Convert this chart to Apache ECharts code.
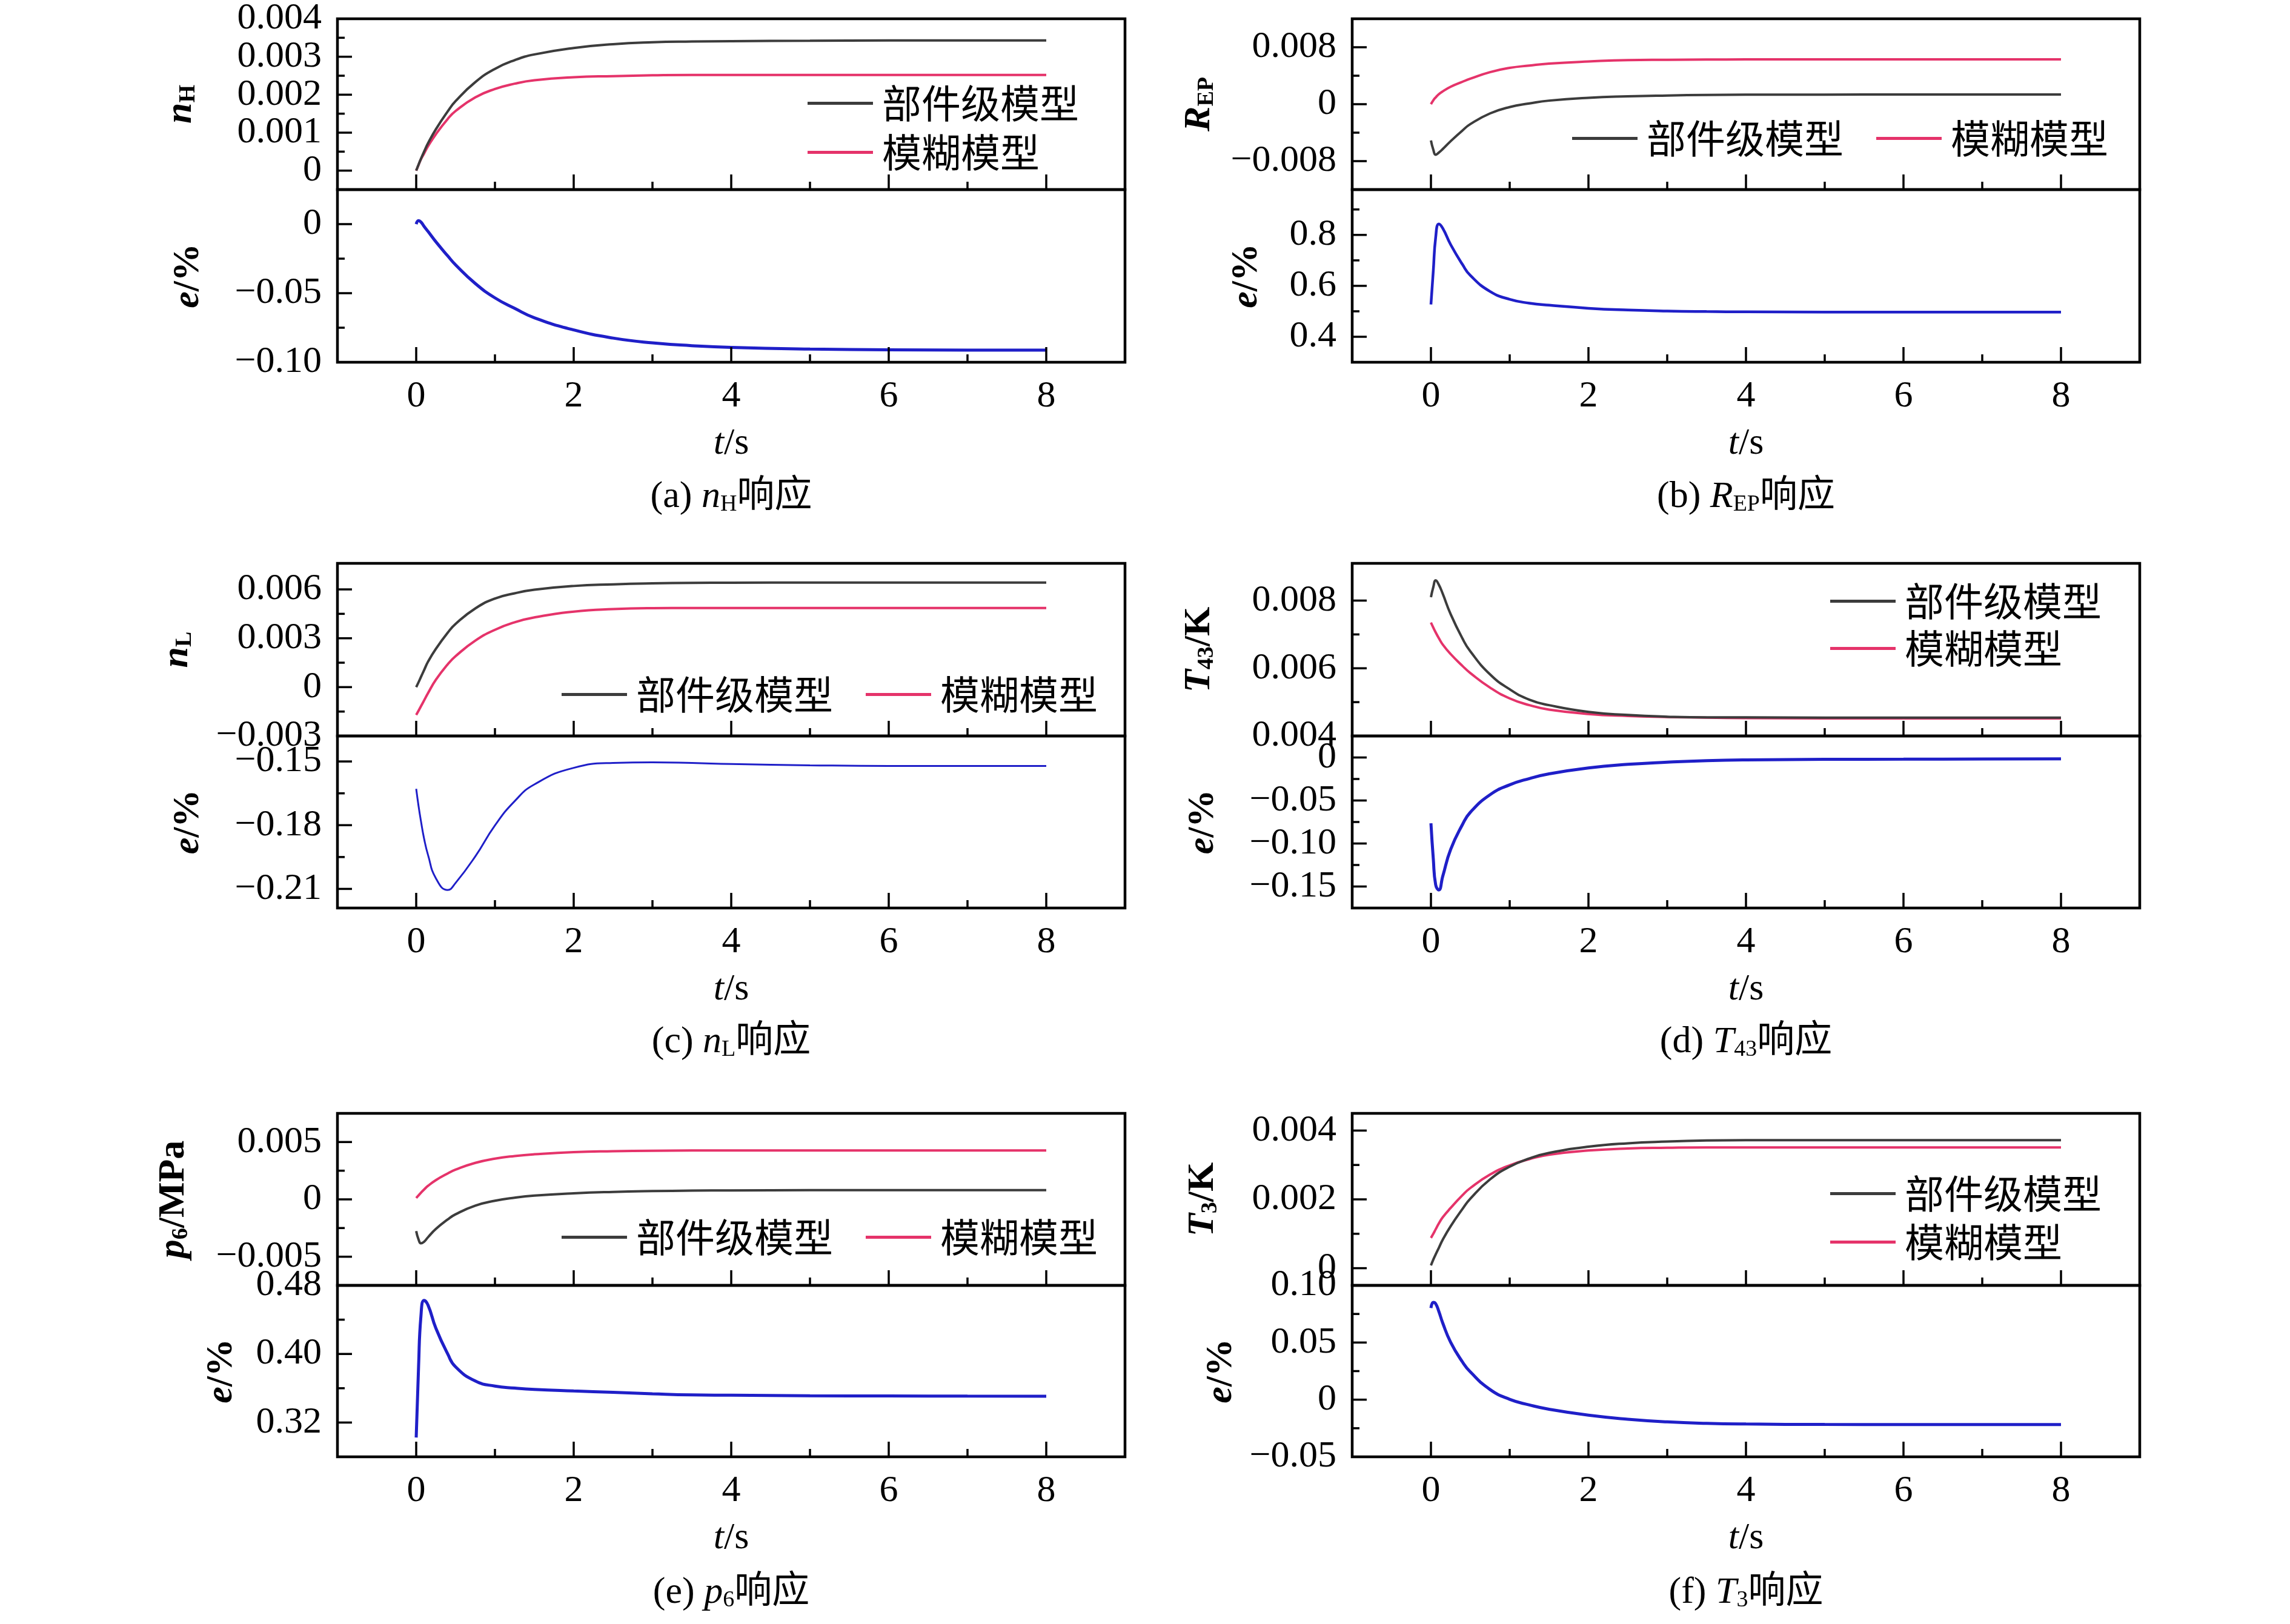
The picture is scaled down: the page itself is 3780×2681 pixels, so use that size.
<!DOCTYPE html>
<html>
<head>
<meta charset="utf-8">
<script src="https://cdn.jsdelivr.net/npm/echarts@6/dist/echarts.min.js"></script>
<style>
html, body { margin: 0; padding: 0; background: #fff; }
#main { width: 3780px; height: 2681px; }
</style>
</head>
<body>
<div id="main"></div>
<script>
// sample times (s) shared by every curve
var timeS = [0, 0.03, 0.06, 0.1, 0.15, 0.25, 0.4, 0.5, 0.75, 1, 1.25, 1.5, 2, 2.5, 3, 3.5, 4, 5, 6, 7, 8];
var seriesNames = ['部件级模型', '模糊模型'];

// (a) nH
var nHComp  = [0, 0.00016, 0.00031, 0.0005, 0.00072, 0.00109, 0.00156, 0.00183, 0.00233, 0.00268, 0.00291, 0.00306, 0.00323, 0.00333, 0.00338, 0.0034, 0.00341, 0.00342, 0.00343, 0.00343, 0.00343];
var nHFuzzy = [0, 0.00015, 0.0003, 0.00045, 0.00064, 0.00096, 0.00136, 0.00157, 0.00193, 0.00215, 0.00229, 0.00238, 0.00246, 0.00249, 0.00251, 0.00252, 0.00252, 0.00252, 0.00252, 0.00252, 0.00252];
var nHErr   = [0, 0.0025, 0.0015, -0.0016, -0.0053, -0.0128, -0.023, -0.0295, -0.043, -0.0534, -0.061, -0.0678, -0.0766, -0.0825, -0.086, -0.088, -0.0893, -0.0905, -0.091, -0.0912, -0.0912];
// (b) REP
var rEPComp  = [-0.0051, -0.0064, -0.0071, -0.0068, -0.0063, -0.0052, -0.0037, -0.0028, -0.0013, -0.0004, 0.0001, 0.0005, 0.0009, 0.0011, 0.00122, 0.0013, 0.00133, 0.00135, 0.00136, 0.00136, 0.00136];
var rEPFuzzy = [0, 0.00055, 0.00095, 0.0014, 0.0018, 0.00245, 0.00315, 0.00358, 0.0045, 0.0051, 0.00543, 0.0057, 0.006, 0.0062, 0.00624, 0.00627, 0.00629, 0.0063, 0.0063, 0.0063, 0.0063];
var rEPErr   = [0.527, 0.66, 0.79, 0.843, 0.826, 0.762, 0.684, 0.641, 0.578, 0.547, 0.532, 0.524, 0.512, 0.505, 0.501, 0.499, 0.498, 0.497, 0.497, 0.497, 0.497];
// (c) nL
var nLComp  = [0, 0.0003, 0.00062, 0.00104, 0.00156, 0.00235, 0.00334, 0.00388, 0.00483, 0.00544, 0.00576, 0.00598, 0.00621, 0.00631, 0.00637, 0.0064, 0.00641, 0.00642, 0.00642, 0.00642, 0.00642];
var nLFuzzy = [-0.00171, -0.00145, -0.00118, -0.00082, -0.00037, 0.00045, 0.0014, 0.0019, 0.00285, 0.00352, 0.00398, 0.00428, 0.00463, 0.00479, 0.00485, 0.00486, 0.00486, 0.00486, 0.00486, 0.00486, 0.00486];
var nLErr   = [-0.1629, -0.171, -0.178, -0.1863, -0.194, -0.205, -0.2105, -0.2072, -0.1947, -0.1801, -0.1687, -0.1608, -0.153, -0.1507, -0.1504, -0.1507, -0.1512, -0.1518, -0.1521, -0.1521, -0.1521];
// (d) T43
var t43Comp  = [0.0081, 0.0084, 0.0086, 0.00847, 0.0082, 0.0076, 0.00688, 0.0065, 0.00582, 0.00538, 0.00507, 0.00491, 0.00471, 0.00462, 0.00457, 0.00455, 0.00455, 0.00454, 0.00454, 0.00454, 0.00454];
var t43Fuzzy = [0.00735, 0.0072, 0.00706, 0.00689, 0.0067, 0.00642, 0.00607, 0.00586, 0.00543, 0.00511, 0.00491, 0.00478, 0.00465, 0.00459, 0.00456, 0.00454, 0.00453, 0.00452, 0.00452, 0.00452, 0.00452];
var t43Err   = [-0.0765, -0.118, -0.148, -0.154, -0.138, -0.107, -0.078, -0.0637, -0.0433, -0.0318, -0.0245, -0.019, -0.0121, -0.008, -0.0055, -0.0037, -0.0028, -0.0022, -0.002, -0.0018, -0.0016];
// (e) p6
var p6Comp  = [-0.00277, -0.0035, -0.00383, -0.0037, -0.0033, -0.00258, -0.00175, -0.0013, -0.00055, -0.00012, 0.00015, 0.00033, 0.00053, 0.00065, 0.00072, 0.00076, 0.00078, 0.0008, 0.0008, 0.0008, 0.0008];
var p6Fuzzy = [0.00012, 0.00035, 0.00058, 0.00086, 0.00118, 0.00168, 0.00226, 0.00259, 0.00318, 0.00355, 0.00378, 0.00393, 0.00412, 0.0042, 0.00424, 0.00426, 0.00427, 0.00427, 0.00427, 0.00427, 0.00427];
var p6Err   = [0.3025, 0.385, 0.444, 0.4625, 0.457, 0.43, 0.4, 0.385, 0.3685, 0.3625, 0.3602, 0.3586, 0.3568, 0.3553, 0.3535, 0.3522, 0.3519, 0.3512, 0.351, 0.3508, 0.3507];
// (f) T3
var t3Comp  = [0.00008, 0.00025, 0.0004, 0.00059, 0.00083, 0.00122, 0.00172, 0.00202, 0.00258, 0.00295, 0.00319, 0.00335, 0.00353, 0.00363, 0.00368, 0.00371, 0.00372, 0.00372, 0.00372, 0.00372, 0.00372];
var t3Fuzzy = [0.00088, 0.001, 0.00113, 0.0013, 0.00148, 0.00175, 0.00212, 0.00233, 0.00272, 0.00299, 0.00317, 0.0033, 0.00342, 0.00348, 0.0035, 0.00351, 0.00351, 0.00351, 0.00351, 0.00351, 0.00351];
var t3Err   = [0.0802, 0.0852, 0.084, 0.0773, 0.067, 0.0503, 0.033, 0.0243, 0.0089, 0.0003, -0.0046, -0.0084, -0.0136, -0.0171, -0.0194, -0.0207, -0.0213, -0.0217, -0.0218, -0.0218, -0.0218];

// ticks
var xTicks = [0, 2, 4, 6, 8];
var xLabels = ['0', '2', '4', '6', '8'];
var xMinor = [1, 3, 5, 7];

var nHTicks = [0, 0.001, 0.002, 0.003, 0.004];
var nHLabels = ['0', '0.001', '0.002', '0.003', '0.004'];
var nHMinor = [0.0005, 0.0015, 0.0025, 0.0035];
var nHErrTicks = [-0.10, -0.05, 0];
var nHErrLabels = ['−0.10', '−0.05', '0'];
var nHErrMinor = [-0.075, -0.025];

var rEPTicks = [-0.008, 0, 0.008];
var rEPLabels = ['−0.008', '0', '0.008'];
var rEPMinor = [-0.004, 0.004];
var rEPErrTicks = [0.4, 0.6, 0.8];
var rEPErrLabels = ['0.4', '0.6', '0.8'];
var rEPErrMinor = [0.5, 0.7, 0.9];

var nLTicks = [-0.003, 0, 0.003, 0.006];
var nLLabels = ['−0.003', '0', '0.003', '0.006'];
var nLMinor = [-0.0015, 0.0015, 0.0045];
var nLErrTicks = [-0.21, -0.18, -0.15];
var nLErrLabels = ['−0.21', '−0.18', '−0.15'];
var nLErrMinor = [-0.195, -0.165];

var t43Ticks = [0.004, 0.006, 0.008];
var t43Labels = ['0.004', '0.006', '0.008'];
var t43Minor = [0.005, 0.007];
var t43ErrTicks = [-0.15, -0.10, -0.05, 0];
var t43ErrLabels = ['−0.15', '−0.10', '−0.05', '0'];
var t43ErrMinor = [-0.125, -0.075, -0.025];

var p6Ticks = [-0.005, 0, 0.005];
var p6Labels = ['−0.005', '0', '0.005'];
var p6Minor = [-0.0025, 0.0025];
var p6ErrTicks = [0.32, 0.40, 0.48];
var p6ErrLabels = ['0.32', '0.40', '0.48'];
var p6ErrMinor = [0.36, 0.44];

var t3Ticks = [0, 0.002, 0.004];
var t3Labels = ['0', '0.002', '0.004'];
var t3Minor = [0.001, 0.003];
var t3ErrTicks = [-0.05, 0, 0.05, 0.10];
var t3ErrLabels = ['−0.05', '0', '0.05', '0.10'];
var t3ErrMinor = [-0.025, 0.025, 0.075];

var SERIF = "'Liberation Serif', 'Times New Roman', 'Noto Sans CJK SC', serif";
var CJK = "'Noto Sans CJK SC', sans-serif";
var C_COMP = '#3c3c3c', C_FUZZY = '#e5336a', C_ERR = '#1f1fc8';

// layout
var colLeft = [557, 2232];
var plotW = 1300;
var rowTop = [31, 930, 1838];
var topH = [282, 285, 284];
var botH = [285, 284, 283];
var capY = [821, 1721, 2630];

var panels = [
    { col: 0, row: 0, cap: '(a) {i|n}{s|H}响应', yName: '{i|n}{s|H}', gaps: [227, 215],
      top: { min: -0.0005, max: 0.004, ticks: nHTicks, labels: nHLabels, minor: nHMinor },
      bot: { min: -0.10, max: 0.025, ticks: nHErrTicks, labels: nHErrLabels, minor: nHErrMinor },
      comp: nHComp, fuzzy: nHFuzzy, err: nHErr, errW: 5,
      legend: { orient: 'vertical', left: 1333, top: 138, gap: 16 } },
    { col: 1, row: 0, cap: '(b) {i|R}{s|EP}响应', yName: '{i|R}{s|EP}', gaps: [221, 143],
      top: { min: -0.012, max: 0.012, ticks: rEPTicks, labels: rEPLabels, minor: rEPMinor },
      bot: { min: 0.3, max: 0.978, ticks: rEPErrTicks, labels: rEPErrLabels, minor: rEPErrMinor },
      comp: rEPComp, fuzzy: rEPFuzzy, err: rEPErr, errW: 4.5,
      legend: { orient: 'horizontal', left: 2595, top: 196, gap: 54 } },
    { col: 0, row: 1, cap: '(c) {i|n}{s|L}响应', yName: '{i|n}{s|L}', gaps: [233, 215],
      top: { min: -0.003, max: 0.0076, ticks: nLTicks, labels: nLLabels, minor: nLMinor },
      bot: { min: -0.219, max: -0.138, ticks: nLErrTicks, labels: nLErrLabels, minor: nLErrMinor },
      comp: nLComp, fuzzy: nLFuzzy, err: nLErr, errW: 3,
      legend: { orient: 'horizontal', left: 927, top: 1114, gap: 54 } },
    { col: 1, row: 1, cap: '(d) {i|T}{s|43}响应', yName: '{i|T}{s|43}/K', gaps: [221, 215],
      top: { min: 0.004, max: 0.0091, ticks: t43Ticks, labels: t43Labels, minor: t43Minor },
      bot: { min: -0.175, max: 0.025, ticks: t43ErrTicks, labels: t43ErrLabels, minor: t43ErrMinor },
      comp: t43Comp, fuzzy: t43Fuzzy, err: t43Err, errW: 5,
      legend: { orient: 'vertical', left: 3021, top: 960, gap: 13 } },
    { col: 0, row: 2, cap: '(e) {i|p}{s|6}响应', yName: '{i|p}{s|6}/MPa', gaps: [239, 160],
      top: { min: -0.0075, max: 0.0075, ticks: p6Ticks, labels: p6Labels, minor: p6Minor },
      bot: { min: 0.28, max: 0.48, ticks: p6ErrTicks, labels: p6ErrLabels, minor: p6ErrMinor },
      comp: p6Comp, fuzzy: p6Fuzzy, err: p6Err, errW: 5,
      legend: { orient: 'horizontal', left: 927, top: 2010, gap: 54 } },
    { col: 1, row: 2, cap: '(f) {i|T}{s|3}响应', yName: '{i|T}{s|3}/K', gaps: [215, 185],
      top: { min: -0.0005, max: 0.0045, ticks: t3Ticks, labels: t3Labels, minor: t3Minor },
      bot: { min: -0.05, max: 0.10, ticks: t3ErrTicks, labels: t3ErrLabels, minor: t3ErrMinor },
      comp: t3Comp, fuzzy: t3Fuzzy, err: t3Err, errW: 5,
      legend: { orient: 'vertical', left: 3021, top: 1938, gap: 15 } }
];

function lab(vals, labels, v) {
    for (var i = 0; i < vals.length; i++) {
        if (Math.abs(vals[i] - v) < 1e-9) return labels[i];
    }
    return '';
}

function pairs(vals) {
    return timeS.map(function (t, i) { return [t, vals[i]]; });
}

function richStyle(bold) {
    var w = bold ? 'bold' : 'normal';
    return {
        fontFamily: SERIF, fontSize: 62, color: '#000', lineHeight: 62, fontWeight: w,
        rich: {
            i: { fontFamily: SERIF, fontSize: 62, fontStyle: 'italic', fontWeight: w, lineHeight: 62, color: '#000' },
            s: { fontFamily: SERIF, fontSize: 38, lineHeight: 22, verticalAlign: 'bottom', color: '#000' }
        }
    };
}

var grids = [], xAxes = [], yAxes = [], series = [], legends = [], graphics = [];
var tickJobs = [];

panels.forEach(function (p) {
    var left = colLeft[p.col];
    var t0 = rowTop[p.row];
    [0, 1].forEach(function (k) {
        var g = grids.length;
        var sub = k === 0 ? p.top : p.bot;
        var isBot = k === 1;
        grids.push({
            left: left, top: isBot ? t0 + topH[p.row] : t0, width: plotW,
            height: isBot ? botH[p.row] : topH[p.row],
            show: true, borderColor: '#000', borderWidth: 4.5, backgroundColor: 'transparent'
        });
        xAxes.push({
            type: 'value', gridIndex: g, position: 'bottom', min: -1, max: 9,
            axisLine: { show: false, onZero: false }, splitLine: { show: false }, axisTick: { show: false },
            axisLabel: {
                show: isBot, customValues: xTicks, interval: 0, margin: 26, fontSize: 62, fontFamily: SERIF, color: '#000',
                formatter: function (v) { return lab(xTicks, xLabels, v); }
            },
            name: isBot ? '{i|t}/s' : '', nameLocation: 'middle', nameGap: 104, nameTextStyle: richStyle(false)
        });
        yAxes.push({
            type: 'value', gridIndex: g, position: 'left', min: sub.min, max: sub.max,
            axisLine: { show: false, onZero: false }, splitLine: { show: false }, axisTick: { show: false },
            axisLabel: {
                customValues: sub.ticks, interval: 0, margin: 26, fontSize: 62, fontFamily: SERIF, color: '#000',
                formatter: function (v) { return lab(sub.ticks, sub.labels, v); }
            },
            name: isBot ? '{i|e}/%' : p.yName, nameLocation: 'middle', nameRotate: 90,
            nameGap: p.gaps[k], nameTextStyle: richStyle(true)
        });
        tickJobs.push({ g: g, sub: sub });
    });
    var gt = grids.length - 2, gb = grids.length - 1;
    series.push({
        name: seriesNames[0], type: 'line', xAxisIndex: gt, yAxisIndex: gt,
        data: pairs(p.comp), smooth: 0.5, showSymbol: false, symbol: 'none',
        color: C_COMP, lineStyle: { color: C_COMP, width: 4 }, z: 3
    });
    series.push({
        name: seriesNames[1], type: 'line', xAxisIndex: gt, yAxisIndex: gt,
        data: pairs(p.fuzzy), smooth: 0.5, showSymbol: false, symbol: 'none',
        color: C_FUZZY, lineStyle: { color: C_FUZZY, width: 4 }, z: 2
    });
    series.push({
        name: 'e', type: 'line', xAxisIndex: gb, yAxisIndex: gb,
        data: pairs(p.err), smooth: 0.5, showSymbol: false, symbol: 'none',
        color: C_ERR, lineStyle: { color: C_ERR, width: p.errW }
    });
    legends.push({
        orient: p.legend.orient, left: p.legend.left, top: p.legend.top, itemGap: p.legend.gap,
        padding: 0, icon: 'rect', itemWidth: 108, itemHeight: 5, selectedMode: false,
        data: seriesNames,
        textStyle: { fontSize: 65, fontFamily: CJK, color: '#000', lineHeight: 64, padding: [0, 0, 0, 10] }
    });
    graphics.push({
        type: 'text', x: left + plotW / 2, y: capY[p.row],
        style: {
            text: p.cap, fontFamily: SERIF, fontSize: 62, fill: '#000',
            textAlign: 'center', textVerticalAlign: 'middle',
            rich: {
                i: { fontFamily: SERIF, fontSize: 62, fontStyle: 'italic', lineHeight: 62, fill: '#000' },
                s: { fontFamily: SERIF, fontSize: 38, lineHeight: 22, verticalAlign: 'bottom', fill: '#000' }
            }
        }
    });
});

var chart = echarts.init(document.getElementById('main'));
chart.setOption({
    backgroundColor: '#ffffff',
    animation: false,
    grid: grids,
    xAxis: xAxes,
    yAxis: yAxes,
    legend: legends,
    graphic: graphics,
    series: series
});

// inward tick marks on the bottom and left edges, placed through each axis scale
var tickEls = [];
var tickStyle = { stroke: '#000', lineWidth: 3.5 };
tickJobs.forEach(function (m) {
    var gr = grids[m.g];
    var bottom = gr.top + gr.height, lx = gr.left;
    function xt(vals, len) {
        vals.forEach(function (v) {
            var px = chart.convertToPixel({ xAxisIndex: m.g }, v);
            tickEls.push({ type: 'line', z: 20, silent: true, shape: { x1: px, y1: bottom, x2: px, y2: bottom - len }, style: tickStyle });
        });
    }
    function yt(vals, len) {
        vals.forEach(function (v) {
            var py = chart.convertToPixel({ yAxisIndex: m.g }, v);
            tickEls.push({ type: 'line', z: 20, silent: true, shape: { x1: lx, y1: py, x2: lx + len, y2: py }, style: tickStyle });
        });
    }
    xt(xTicks, 25); xt(xMinor, 13);
    yt(m.sub.ticks, 24); yt(m.sub.minor, 12);
});
chart.setOption({ graphic: graphics.concat(tickEls) });
</script>
</body>
</html>
